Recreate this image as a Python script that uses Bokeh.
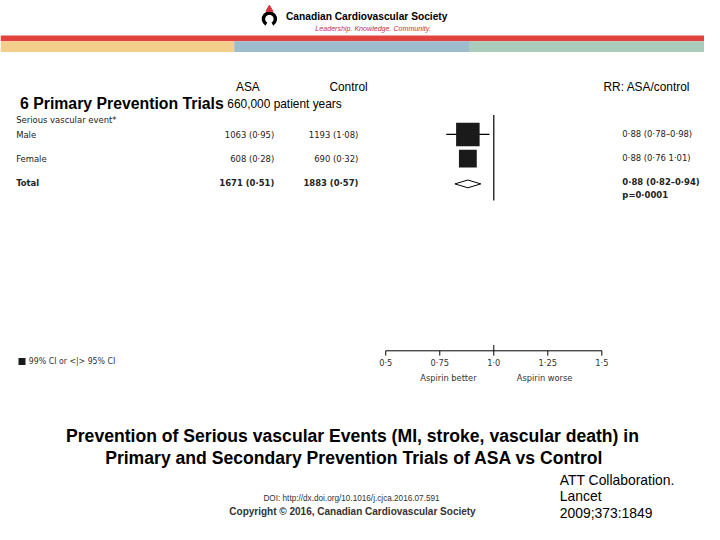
import math
from bokeh.plotting import figure
from bokeh.models import Range1d
from bokeh.core.properties import value
from bokeh.embed import file_html
from bokeh.resources import INLINE

# ---------------- data ----------------
subgroups = ["Male", "Female", "Total"]
asa_events = ["1063 (0·95)", "608 (0·28)", "1671 (0·51)"]
control_events = ["1193 (1·08)", "690 (0·32)", "1883 (0·57)"]
asa_n = [1063, 608, 1671]
ctrl_n = [1193, 690, 1883]
rr = [0.88, 0.88, 0.88]
ci_low = [0.78, 0.76, 0.82]
ci_high = [0.98, 1.01, 0.94]
rr_labels = ["0·88 (0·78–0·98)", "0·88 (0·76 1·01)", "0·88 (0·82–0·94)"]
p_value = "p=0·0001"
axis_ticks = [0.5, 0.75, 1.0, 1.25, 1.5]
axis_tick_labels = ["0·5", "0·75", "1·0", "1·25", "1·5"]

SANS = "Liberation Sans"
NARROW = "'DejaVu Sans Condensed', sans-serif"

W, H = 704, 524
p = figure(width=W, height=H, output_backend="svg", toolbar_location=None,
           x_range=Range1d(0, 720), y_range=Range1d(540, 0),
           min_border=0, outline_line_color=None, background_fill_color="white",
           border_fill_color="white")
p.axis.visible = False
p.grid.visible = False

# RR scale: 0.5 at slide-x 394, 1.5 at slide-x 615
px_per = (615 - 394) / 1.0
p.extra_x_ranges = {"rr": Range1d(0.5 - 394 / px_per, 1.5 + (720 - 615) / px_per)}


def txt(x, y, s, size, font=SANS, style="normal", color="black", align="left",
        baseline="middle", rng="default"):
    p.text(x=[x], y=[y], text=[s], text_font=value(font), text_font_size=f"{size}px",
           text_font_style=style, text_color=color, text_align=align,
           text_baseline=baseline, x_range_name=rng)


# ---------------- header band ----------------
p.quad(left=[0], right=[720], top=[36], bottom=[42], color="#E2433F", line_color=None)
p.quad(left=[0, 239, 480], right=[239, 480, 720], top=[42] * 3, bottom=[53] * 3,
       color=["#F4CF8B", "#9DBDCF", "#A9CCBB"], line_color=None)

# logo
p.arc(x=[275], y=[19], radius=6, start_angle=math.radians(300), end_angle=math.radians(240),
      direction="anticlock", line_color="black", line_width=3.5, radius_units="screen")
p.scatter(x=[275], y=[9], marker="triangle", size=7, color="#D8323A")
txt(292, 17, "Canadian Cardiovascular Society", 10.2, style="bold")
txt(322, 29, "Leadership. Knowledge. Community.", 7.1, style="italic", color="#C8303A")

# ---------------- column headers ----------------
txt(253, 89, "ASA", 11.9, align="center")
txt(356, 89, "Control", 11.9, align="center")
txt(661, 89, "RR: ASA/control", 11.9, align="center")
txt(20, 106, "6 Primary Prevention Trials", 15.8, style="bold")
txt(232, 107, "660,000 patient years", 11.9)
TS = 9.4
txt(16, 123, "Serious vascular event*", TS, font=NARROW, color="#222222")

row_y = [138, 163, 188]
for i, name in enumerate(subgroups):
    st = "bold" if name == "Total" else "normal"
    txt(16, row_y[i], name, TS, font=NARROW, style=st, color="#222222")
    txt(280, row_y[i], asa_events[i], TS, font=NARROW, style=st, color="#222222", align="right")
    txt(366, row_y[i], control_events[i], TS, font=NARROW, style=st, color="#222222", align="right")
    txt(636, row_y[i] - 1, rr_labels[i], TS, font=NARROW, style=st, color="#222222")
txt(636, 200, p_value, TS, font=NARROW, style="bold", color="#222222")

# ---------------- forest plot ----------------
# line of no effect
p.segment(x0=[1.0], x1=[1.0], y0=[118], y1=[206], line_color="black", line_width=1.2,
          x_range_name="rr")
# 99% CI whisker (male)
p.segment(x0=[ci_low[0]], x1=[ci_high[0]], y0=[row_y[0]], y1=[row_y[0]],
          line_color="black", line_width=1.2, x_range_name="rr")
# squares sized by number of events
sizes = [0.495 * math.sqrt(asa_n[i] + ctrl_n[i]) for i in range(2)]
p.scatter(x=rr[:2], y=row_y[:2], marker="square", size=sizes, color="#1a1a1a",
          line_color=None, x_range_name="rr")
# diamond for total (95% CI)
p.patch(x=[ci_low[2], rr[2], ci_high[2], rr[2]],
        y=[row_y[2] + 1, row_y[2] - 3, row_y[2] + 1, row_y[2] + 5],
        fill_color="white", line_color="black", line_width=1, x_range_name="rr")

# axis
p.segment(x0=[axis_ticks[0]], x1=[axis_ticks[-1]], y0=[361], y1=[361],
          line_color="black", line_width=1, x_range_name="rr")
p.segment(x0=axis_ticks, x1=axis_ticks, y0=[361] * 5, y1=[366] * 5,
          line_color="black", line_width=1, x_range_name="rr")
p.segment(x0=[1.0], x1=[1.0], y0=[355], y1=[361], line_color="black", line_width=1,
          x_range_name="rr")
for t, lab in zip(axis_ticks, axis_tick_labels):
    txt(t, 373, lab, 9.2, font=NARROW, color="#333333", align="center", rng="rr")
txt(0.79, 388, "Aspirin better", 9.2, font=NARROW, color="#333333", align="center", rng="rr")
txt(1.235, 388, "Aspirin worse", 9.2, font=NARROW, color="#333333", align="center", rng="rr")

# legend
p.scatter(x=[22], y=[372], marker="square", size=7, color="#1a1a1a", line_color=None)
txt(29, 372, "99% CI or <|> 95% CI", 8.7, font=NARROW, color="#333333")

# ---------------- title & footer ----------------
txt(360, 449, "Prevention of Serious vascular Events (MI, stroke, vascular death) in", 17.6,
    style="bold", align="center")
txt(362, 471, "Primary and Secondary Prevention Trials of ASA vs Control", 17.6,
    style="bold", align="center")
txt(359, 513, "DOI: http://dx.doi.org/10.1016/j.cjca.2016.07.591", 8.2, color="#333333",
    align="center")
txt(360, 527, "Copyright © 2016, Canadian Cardiovascular Society", 10, style="bold",
    color="#333333", align="center")
txt(572, 494, "ATT Collaboration.", 13.9)
txt(572, 511, "Lancet", 13.9)
txt(572, 528, "2009;373:1849", 13.9)

open("out.html", "w").write(file_html(p, INLINE))
